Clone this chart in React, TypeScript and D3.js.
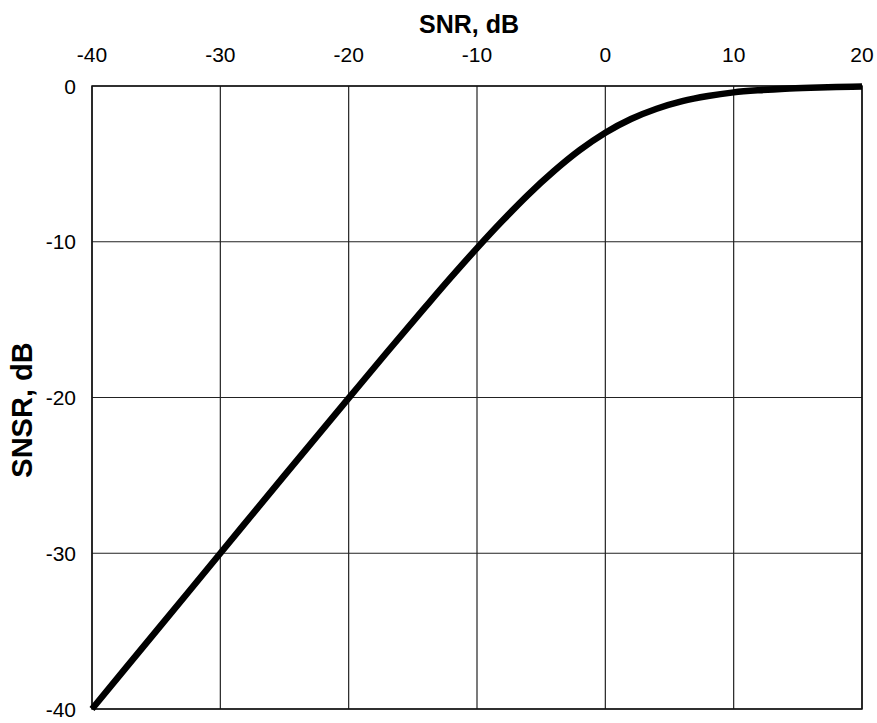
import React from "react";
import * as d3 from "d3";

const snrDb = [-40, -35, -30, -25, -20, -17, -14, -12, -10, -8, -6, -4, -2, 0, 2, 4, 6, 8, 10, 12, 14, 16, 18, 20];
const snsrDb = [-40, -35, -30, -25, -20.04, -17.08, -14.17, -12.26, -10.41, -8.64, -6.97, -5.46, -4.12, -3.0, -2.12, -1.46, -0.97, -0.64, -0.41, -0.27, -0.17, -0.11, -0.07, -0.04];
const xTicks = [-40, -30, -20, -10, 0, 10, 20];
const yTicks = [0, -10, -20, -30, -40];

const W = 877, H = 723;
const M = { left: 92, right: 862, top: 86, bottom: 709 };

export default function App() {
  const x = d3.scaleLinear().domain([-40, 20]).range([M.left, M.right]);
  const y = d3.scaleLinear().domain([-40, 0]).range([M.bottom, M.top]);
  const pts = snrDb.map((s, i) => [s, snsrDb[i]] as [number, number]);
  const line = d3.line<[number, number]>().x(d => x(d[0])).y(d => y(d[1])).curve(d3.curveMonotoneX);
  const font = "'Liberation Sans', Arial, sans-serif";
  return (
    <svg width={W} height={H} style={{ position: "absolute", left: 0, top: 0, background: "#fff" }}>
      <rect x={0} y={0} width={W} height={H} fill="#fff" />
      {xTicks.map(t => (
        <line key={"gx" + t} x1={x(t)} x2={x(t)} y1={M.top} y2={M.bottom} stroke="#222" strokeWidth={1.2} />
      ))}
      {yTicks.map(t => (
        <line key={"gy" + t} x1={M.left} x2={M.right} y1={y(t)} y2={y(t)} stroke="#222" strokeWidth={1.2} />
      ))}
      <rect x={M.left} y={M.top} width={M.right - M.left} height={M.bottom - M.top} fill="none" stroke="#111" strokeWidth={1.5} />
      <path d={line(pts) || ""} fill="none" stroke="#000" strokeWidth={6.5} strokeLinejoin="round" />
      {xTicks.map(t => (
        <text key={"tx" + t} x={x(t)} y={62} textAnchor="middle" fontFamily={font} fontSize={21} fill="#000">{t}</text>
      ))}
      {yTicks.map(t => (
        <text key={"ty" + t} x={76} y={y(t) + 7.5} textAnchor="end" fontFamily={font} fontSize={21} fill="#000">{t}</text>
      ))}
      <text x={469} y={33} textAnchor="middle" fontFamily={font} fontSize={25} fontWeight="bold" fill="#000">SNR, dB</text>
      <text transform={`translate(32,410) rotate(-90)`} textAnchor="middle" fontFamily={font} fontSize={29} fontWeight="bold" fill="#000">SNSR, dB</text>
    </svg>
  );
}
